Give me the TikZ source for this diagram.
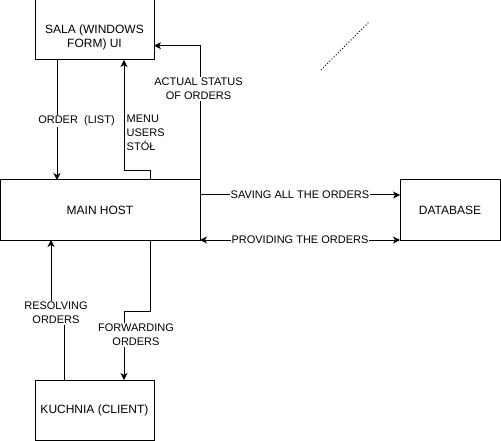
\documentclass[tikz,border=0pt]{standalone}
\usepackage{fontspec}
\setmainfont{Liberation Sans}
\usepackage{tikz}
\usetikzlibrary{arrows.meta, positioning, calc}
\tikzset{
	block/.style    ={rectangle, draw=black, line width=1pt, outer sep=0pt, align=center,
		font=\fontsize{12}{14}\selectfont},
	lbl/.style      ={fill=white, inner sep=1pt, align=center, font=\fontsize{11}{14}\selectfont},
	flowarrow/.style={-{Stealth[length=7pt, width=7pt, inset=2pt]}, line width=1pt},
	biarrow/.style  ={{Stealth[length=7pt, width=7pt, inset=2pt]}-{Stealth[length=7pt, width=7pt, inset=2pt]}, line width=1pt},
}

\begin{document}
\begin{tikzpicture}[x=1pt, y=-1pt]
	\useasboundingbox (0,0) rectangle (501,441);
	% boxes
	\node[block, minimum width=119pt, minimum height=60pt,
		label={[name=salatxt, yshift=-7.5pt, align=center, font=\fontsize{12}{14}\selectfont]center:SALA (WINDOWS\\FORM) UI}]
		(sala) at (94.5,30) {};
	\node[block, minimum width=200pt, minimum height=60pt] (host) at (100,210) {MAIN HOST};
	\node[block, minimum width=100pt, minimum height=60pt] (db) at (450,210) {DATABASE};
	\node[block, minimum width=119pt, minimum height=60pt] (kuchnia) at (94.5,410) {KUCHNIA (CLIENT)};
	% sala <-> main host
	\draw[flowarrow] ([xshift=22pt]sala.south west) -- ([xshift=22pt]sala.south west |- host.north);
	\draw[flowarrow] ([xshift=50pt]host.north) -- ++(0,-9) -| ([xshift=29.5pt]sala.south);
	\draw[flowarrow] (host.north east) |- ([yshift=-15.7pt]sala.east);
	% main host <-> database
	\draw[flowarrow] ([yshift=15pt]host.east) -- ([yshift=15pt]db.west);
	\draw[biarrow] (host.south east) -- (db.south west);
	% main host <-> kuchnia
	\draw[flowarrow] ([xshift=-30.5pt]kuchnia.north) -- ++(0,-67) -| ([xshift=-49pt]host.south);
	\draw[flowarrow] ([xshift=50pt]host.south) -- ++(0,71) -| ([xshift=29.5pt]kuchnia.north);
	% labels
	\node[lbl] (lorder) at (76.5,121) {ORDER~~(LIST)};
	\node[lbl, fill=none, align=left, anchor=west] (lmenu) at (125.5,133) {MENU\\USERS\\STÓŁ};
	\node[lbl] (lstatus) at (198.5,89) {ACTUAL STATUS\\OF ORDERS};
	\node[lbl] (lsave) at (300,195) {SAVING ALL THE ORDERS};
	\node[lbl] (lprov) at (300,240) {PROVIDING THE ORDERS};
	\node[lbl] (lresolve) at (56,313) {RESOLVING\\ORDERS};
	\node[lbl] (lforward) at (136,335) {FORWARDING\\ORDERS};
	% stray dotted stroke
	\coordinate (dotA) at (321,70);
	\coordinate (dotB) at (369,22);
	\draw[dotted, line width=1pt] (dotA) -- (dotB);
\end{tikzpicture}
\end{document}
